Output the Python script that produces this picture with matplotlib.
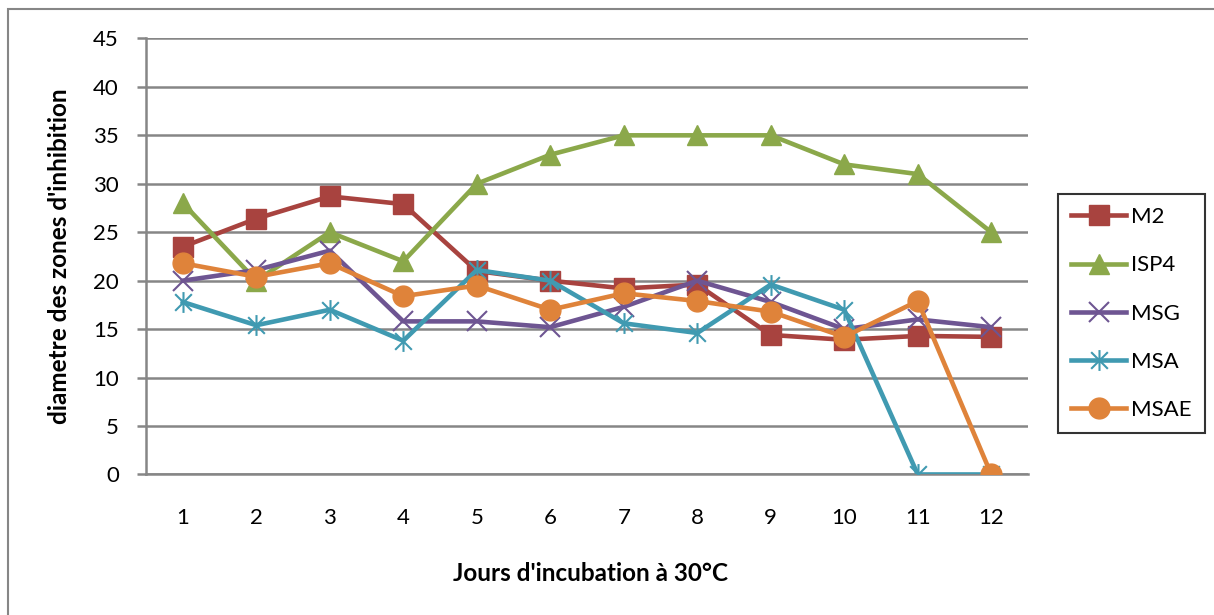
import matplotlib
matplotlib.use('Agg')
import matplotlib.pyplot as plt
from matplotlib.path import Path
from matplotlib.patches import Rectangle

plt.rcParams['font.family'] = ['Lato', 'DejaVu Sans']

# jours d'incubation
jours = [1, 2, 3, 4, 5, 6, 7, 8, 9, 10, 11, 12]

# diametre des zones d'inhibition
m2 = [23.5, 26.4, 28.7, 27.9, 21.0, 20.0, 19.2, 19.6, 14.4, 13.9, 14.3, 14.2]
isp4 = [28, 20, 25, 22, 30, 33, 35, 35, 35, 32, 31, 25]
msg = [20.0, 21.1, 23.1, 15.8, 15.8, 15.2, 17.3, 20.0, 17.8, 15.0, 16.0, 15.2]
msa = [17.8, 15.4, 17.0, 13.8, 21.1, 20.0, 15.6, 14.6, 19.6, 17.0, 0, 0]
msae = [21.8, 20.4, 21.8, 18.4, 19.5, 17.0, 18.7, 17.9, 16.8, 14.2, 17.9, 0]

yticks = [0, 5, 10, 15, 20, 25, 30, 35, 40, 45]

# marqueur "etoile" excel : x + barre verticale
star = Path([(0, -1), (0, 1), (-0.8, -0.8), (0.8, 0.8), (-0.8, 0.8), (0.8, -0.8)],
            [Path.MOVETO, Path.LINETO, Path.MOVETO, Path.LINETO, Path.MOVETO, Path.LINETO])

fig = plt.figure(figsize=(12.14, 6.15), dpi=100)
ax = fig.add_axes([0.1203, 0.2285, 0.7265, 0.709])

lw = 3.3
ax.plot(jours, m2, color='#A8433F', lw=lw, marker='s', ms=14, label='M2', zorder=3)
ax.plot(jours, isp4, color='#8BA84A', lw=lw, marker='^', ms=15, label='ISP4', zorder=3)
ax.plot(jours, msg, color='#6E5592', lw=lw, marker='x', ms=14, mew=1.5, label='MSG', zorder=3)
ax.plot(jours, msa, color='#409AB1', lw=lw, marker=star, ms=15, mew=1.5, label='MSA', zorder=3)
ax.plot(jours, msae, color='#DF833A', lw=lw, marker='o', ms=15, label='MSAE', zorder=3)

ax.set_xlim(0.5, 12.5)
ax.set_ylim(0, 45)
ax.set_yticks(yticks)
ax.set_xticks(jours)
ax.yaxis.grid(True, color='#868686', lw=1.8)
ax.set_axisbelow(True)
for s in ['top', 'right']:
    ax.spines[s].set_visible(False)
for s in ['left', 'bottom']:
    ax.spines[s].set_color('#868686')
    ax.spines[s].set_linewidth(1.8)
ax.tick_params(axis='y', length=6.5, width=1.8, color='#868686', pad=13, labelsize=16)
ax.tick_params(axis='x', length=0, pad=24, labelsize=16)

fig.text(0.049, 0.584, "diametre des zones d'inhibition", rotation=90, fontsize=17.5,
         fontweight='bold', ha='center', va='center')
fig.text(0.486, 0.067, "Jours d'incubation à 30°C", fontsize=17.5, fontweight='bold',
         ha='center', va='center')

leg = ax.legend(loc='center left', bbox_to_anchor=(0.8715, 0.49), bbox_transform=fig.transFigure,
                fontsize=16, frameon=True, fancybox=False, edgecolor='black', borderaxespad=0,
                handlelength=2.45, labelspacing=1.27, handletextpad=0.25, borderpad=0.6)
leg.get_frame().set_linewidth(1.5)

# cadre exterieur
fig.patches.append(Rectangle((8 / 1214, -0.1), 1.2, 1 - 9 / 615 + 0.1, transform=fig.transFigure,
                             fill=False, edgecolor='#868686', lw=1.5))

fig.savefig('out.png', dpi=100)
